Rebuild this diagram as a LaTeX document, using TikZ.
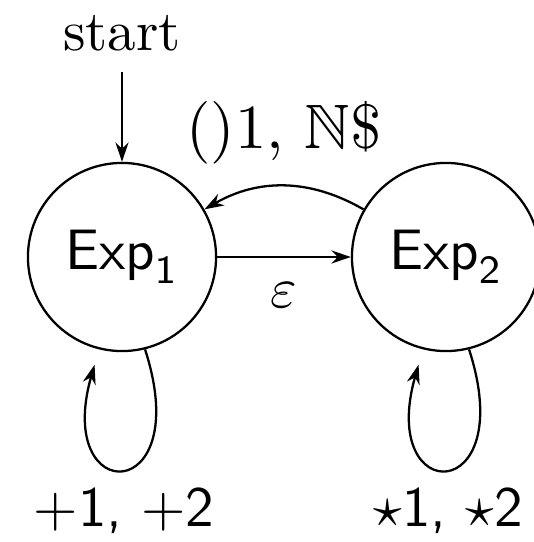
\documentclass[tikz,border=0pt]{standalone}
\usepackage{amssymb}
\usetikzlibrary{arrows.meta,positioning}

\newcommand*{\pxunit}{0.1754pt}
\newcommand*{\xmax}{533}
\newcommand*{\ymax}{542}

\begin{document}
\begin{tikzpicture}
[
	x=\pxunit, y=-\pxunit,
	>={Stealth[length=3.4pt,width=2.3pt]},
	state/.style={circle,draw,inner sep=0pt,minimum size=33pt},
	looplabel/.style={below,font=\sffamily},
]

	\useasboundingbox (0,0) rectangle (\xmax,\ymax);

	% states
	\node[state] (e1) at (122,257) {$\mathsf{Exp}_\mathsf{1}$};
	\node[state] (e2) at (446,257) {$\mathsf{Exp}_\mathsf{2}$};
	\node[above=15.8pt of e1] (start) {start};

	% transitions
	\draw[->] (start) -- (e1);
	\draw[->] (e1) -- node[below=1pt] {$\varepsilon$} (e2);
	\draw[->] (e2) to[bend right=30] node[above,scale=1.1] {()1, $\mathbb{N}$\$} (e1);

	% self loops
	\draw[->,shorten >=2.8pt] (e1.-76) .. controls +(-72:29pt) and +(-106:29pt) .. node[looplabel] {+1, +2} (e1.-104);
	\draw[->,shorten >=2.8pt] (e2.-76) .. controls +(-72:29pt) and +(-106:29pt) .. node[looplabel] {$\star$1, $\star$2} (e2.-104);

\end{tikzpicture}
\end{document}
